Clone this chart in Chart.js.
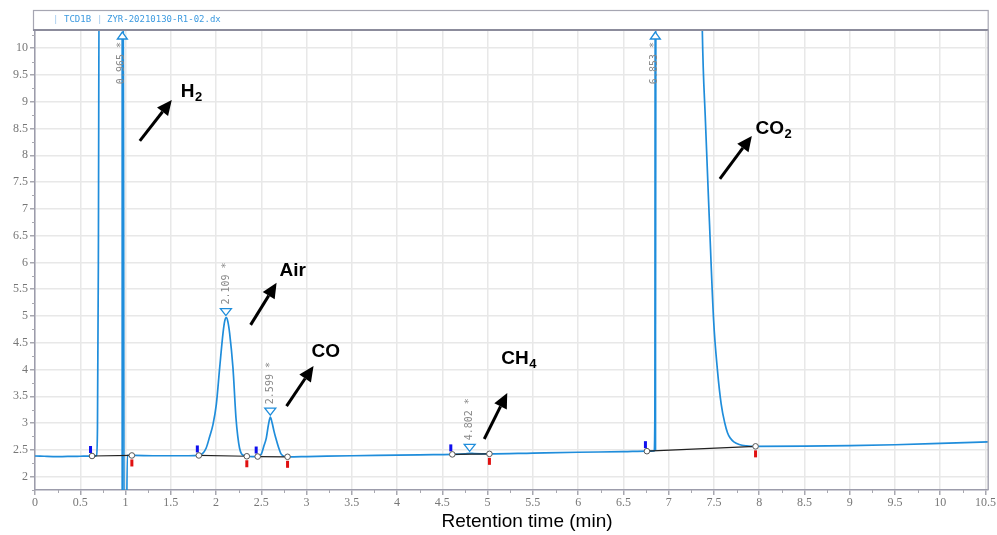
<!DOCTYPE html>
<html><head><meta charset="utf-8">
<script src="https://cdn.jsdelivr.net/npm/chart.js@4/dist/chart.umd.min.js"></script>
<style>html,body{margin:0;padding:0;background:#fff}#wrap{width:997px;height:535px;position:relative}</style>
</head><body><div id="wrap"><canvas id="c"></canvas></div>
<script>
// ---- data ----
const retentionTime = [0.00,0.10,0.20,0.30,0.40,0.50,0.60,0.66,0.68,0.69,0.70,0.71,0.975,0.985,1.005,1.02,1.10,1.30,1.50,1.70,1.80,1.85,1.89,1.93,1.966,2.003,2.04,2.077,2.095,2.113,2.13,2.15,2.187,2.22,2.24,2.26,2.28,2.30,2.34,2.40,2.46,2.50,2.53,2.555,2.58,2.60,2.62,2.64,2.66,2.69,2.72,2.76,2.80,3.00,3.50,4.00,4.40,4.61,4.75,4.80,4.85,5.02,5.50,6.00,6.50,6.76,6.84,6.85,6.86,7.36,7.37,7.406,7.45,7.497,7.54,7.58,7.62,7.65,7.68,7.72,7.78,7.86,7.96,8.50,9.00,9.50,10.00,10.53];
const signal =        [2.385,2.38,2.375,2.375,2.378,2.38,2.382,2.383,2.40,2.9,6.0,12,12,0,0,2.395,2.395,2.39,2.39,2.39,2.395,2.43,2.53,2.75,2.97,3.35,4.03,4.68,4.9,4.97,4.9,4.68,4.03,3.1,2.75,2.53,2.43,2.40,2.38,2.375,2.375,2.42,2.58,2.72,2.98,3.11,3.0,2.85,2.72,2.55,2.42,2.375,2.37,2.375,2.39,2.40,2.41,2.415,2.425,2.435,2.43,2.425,2.44,2.455,2.465,2.475,2.48,4.0,12,12,10.5,8.65,6.78,4.91,3.97,3.36,3.0,2.82,2.72,2.65,2.60,2.575,2.565,2.57,2.58,2.595,2.62,2.65];
const xTicks = [0,0.5,1,1.5,2,2.5,3,3.5,4,4.5,5,5.5,6,6.5,7,7.5,8,8.5,9,9.5,10,10.5];
const yTicks = [2,2.5,3,3.5,4,4.5,5,5.5,6,6.5,7,7.5,8,8.5,9,9.5,10];
// peak markers (null height = off scale)
const peakTimes   = [0.965,2.109,2.599,4.802,6.853];
const peakHeights = [null,4.97,3.11,2.435,null];
const peakBaseY   = [2.39,null,null,null,2.48];
const peakLabels  = ["0.965 *","2.109 *","2.599 *","4.802 *","6.853 *"];
// integration events
const intStartX = [0.63,1.81,2.46,4.61,6.76];
const intStartY = [2.385,2.395,2.375,2.415,2.475];
const intEndX   = [1.07,2.34,2.79,5.02,7.96];
const intEndY   = [2.395,2.38,2.37,2.425,2.565];
// compound annotations
const compoundMain = ["H","Air","CO","CH","CO"];
const compoundSub  = ["2","","","4","2"];
const labelX = [1.61,2.70,3.055,5.15,7.96];
const labelY = [9.09,5.75,4.235,4.105,8.40];
const arrowFromX = [1.158,2.382,2.779,4.963,7.566];
const arrowFromY = [8.27,4.834,3.317,2.703,7.559];
const arrowToX   = [1.511,2.669,3.077,5.217,7.919];
const arrowToY   = [9.035,5.618,4.064,3.562,8.362];
const headerDetector = "TCD1B";
const headerFile = "ZYR-20210130-R1-02.dx";
const xTitle = "Retention time (min)";

const BLUE = '#1f8ddb';

const overlay = {
  id:'overlay',
  afterDraw(chart){
    const ctx = chart.ctx, xs = chart.scales.x, ys = chart.scales.y, a = chart.chartArea;
    ctx.save();
    // header box
    ctx.strokeStyle = '#a6a6b2'; ctx.lineWidth = 1.2;
    ctx.strokeRect(33.5, 10.5, a.right - 33.5, 19.5);
    ctx.strokeStyle = '#8c8c9c'; ctx.lineWidth = 2;
    ctx.beginPath(); ctx.moveTo(33, a.top); ctx.lineTo(a.right, a.top); ctx.stroke();
    // right border
    ctx.strokeStyle = '#a6a6b2'; ctx.lineWidth = 1.5;
    ctx.beginPath(); ctx.moveTo(a.right, a.top); ctx.lineTo(a.right, a.bottom); ctx.stroke();
    ctx.font = '9px "DejaVu Sans Mono"'; ctx.textBaseline = 'middle'; ctx.textAlign = 'left';
    ctx.fillStyle = '#9cc8ee'; ctx.fillText('|', 53, 19.5); ctx.fillText('|', 97, 19.5);
    ctx.fillStyle = '#3d9ae0'; ctx.fillText(headerDetector, 64, 19.5); ctx.fillText(headerFile, 107, 19.5);
    // minor ticks
    ctx.strokeStyle = '#a8a8b0'; ctx.lineWidth = 1;
    for (let i = 0; i < xTicks.length; i++) {
      const v = xTicks[i] + 0.25; if (v > xs.max) break;
      const px = Math.round(xs.getPixelForValue(v)) + 0.5;
      ctx.beginPath(); ctx.moveTo(px, a.bottom); ctx.lineTo(px, a.bottom + 3); ctx.stroke();
    }
    for (let i = -1; i < yTicks.length; i++) {
      const v = (i < 0 ? yTicks[0] - 0.5 : yTicks[i]) + 0.25; if (v > ys.max || v < ys.min) continue;
      const py = Math.round(ys.getPixelForValue(v)) + 0.5;
      ctx.beginPath(); ctx.moveTo(a.left - 3, py); ctx.lineTo(a.left, py); ctx.stroke();
    }
    // clip to plot for markers
    ctx.save();
    ctx.beginPath(); ctx.rect(a.left, a.top, a.right - a.left, a.bottom - a.top); ctx.clip();
    // peak markers
    ctx.strokeStyle = BLUE; ctx.lineWidth = 1.3; ctx.fillStyle = '#fff';
    for (let i = 0; i < peakTimes.length; i++) {
      const px = xs.getPixelForValue(peakTimes[i]);
      if (peakHeights[i] === null) {
        const by = ys.getPixelForValue(peakBaseY[i]);
        ctx.lineWidth = 2;
        ctx.beginPath(); ctx.moveTo(px, a.top + 3); ctx.lineTo(px, i === 0 ? a.bottom : by); ctx.stroke();
        ctx.lineWidth = 1.3;
        ctx.beginPath(); ctx.moveTo(px, a.top + 2); ctx.lineTo(px - 5, a.top + 9); ctx.lineTo(px + 5, a.top + 9); ctx.closePath();
        ctx.fill(); ctx.stroke();
        ctx.save(); ctx.translate(px - 1, a.top + 12); ctx.rotate(-Math.PI / 2);
        ctx.font = '10px "DejaVu Sans Mono"'; ctx.fillStyle = '#888'; ctx.textAlign = 'right'; ctx.textBaseline = 'middle';
        ctx.fillText(peakLabels[i], 0, 0); ctx.restore(); ctx.fillStyle = '#fff';
      } else {
        const py = ys.getPixelForValue(peakHeights[i]) - 2;
        ctx.beginPath(); ctx.moveTo(px, py); ctx.lineTo(px - 5.5, py - 7); ctx.lineTo(px + 5.5, py - 7); ctx.closePath();
        ctx.fill(); ctx.stroke();
        ctx.save(); ctx.translate(px, py - 11); ctx.rotate(-Math.PI / 2);
        ctx.font = '10px "DejaVu Sans Mono"'; ctx.fillStyle = '#888'; ctx.textAlign = 'left'; ctx.textBaseline = 'middle';
        ctx.fillText(peakLabels[i], 0, 0); ctx.restore(); ctx.fillStyle = '#fff';
      }
    }
    // integration baselines
    for (let i = 0; i < intStartX.length; i++) {
      const x1 = xs.getPixelForValue(intStartX[i]), y1 = ys.getPixelForValue(intStartY[i]);
      const x2 = xs.getPixelForValue(intEndX[i]), y2 = ys.getPixelForValue(intEndY[i]);
      ctx.strokeStyle = '#222'; ctx.lineWidth = 1.2;
      ctx.beginPath(); ctx.moveTo(x1, y1); ctx.lineTo(x2, y2); ctx.stroke();
      ctx.fillStyle = '#1010ee'; ctx.fillRect(x1 - 3, y1 - 10, 3, 7);
      ctx.fillStyle = '#e01010'; ctx.fillRect(x2 - 1.5, y2 + 4, 3, 7);
      ctx.strokeStyle = '#555'; ctx.lineWidth = 1; ctx.fillStyle = '#fff';
      for (const [cx, cy] of [[x1, y1], [x2, y2]]) {
        ctx.beginPath(); ctx.arc(cx, cy, 2.8, 0, Math.PI * 2); ctx.fill(); ctx.stroke();
      }
    }
    ctx.restore();
    // annotations: arrows
    ctx.strokeStyle = '#000'; ctx.fillStyle = '#000'; ctx.lineWidth = 3;
    for (let i = 0; i < arrowFromX.length; i++) {
      const x1 = xs.getPixelForValue(arrowFromX[i]), y1 = ys.getPixelForValue(arrowFromY[i]);
      const x2 = xs.getPixelForValue(arrowToX[i]), y2 = ys.getPixelForValue(arrowToY[i]);
      const ang = Math.atan2(y2 - y1, x2 - x1), hl = 15, hw = 7;
      const bx = x2 - hl * Math.cos(ang), by = y2 - hl * Math.sin(ang);
      ctx.beginPath(); ctx.moveTo(x1, y1); ctx.lineTo(bx, by); ctx.stroke();
      ctx.beginPath(); ctx.moveTo(x2, y2);
      ctx.lineTo(bx + hw * Math.sin(ang), by - hw * Math.cos(ang));
      ctx.lineTo(bx - hw * Math.sin(ang), by + hw * Math.cos(ang));
      ctx.closePath(); ctx.fill();
    }
    // annotations: names
    ctx.textAlign = 'left'; ctx.textBaseline = 'alphabetic';
    for (let i = 0; i < compoundMain.length; i++) {
      const tx = xs.getPixelForValue(labelX[i]), ty = ys.getPixelForValue(labelY[i]);
      ctx.font = 'bold 19px "Liberation Sans"';
      ctx.fillText(compoundMain[i], tx, ty);
      if (compoundSub[i]) {
        const w = ctx.measureText(compoundMain[i]).width;
        ctx.font = 'bold 13px "Liberation Sans"';
        ctx.fillText(compoundSub[i], tx + w + 0.5, ty + 4);
      }
    }
    // x title
    ctx.font = '19px "Liberation Sans"'; ctx.textAlign = 'center'; ctx.textBaseline = 'middle';
    ctx.fillText(xTitle, 527, 522);
    ctx.restore();
  }
};

new Chart(document.getElementById('c'), {
  type: 'scatter',
  data: { datasets: [{
    data: retentionTime.map((t, i) => ({ x: t, y: signal[i] })),
    showLine: true, borderColor: BLUE, borderWidth: 1.7, pointRadius: 0,
    cubicInterpolationMode: 'monotone', fill: false
  }]},
  options: {
    responsive: true, maintainAspectRatio: false, animation: false,
    layout: { padding: { top: 30, right: 7, left: 0, bottom: 0 } },
    plugins: { legend: { display: false }, tooltip: { enabled: false } },
    scales: {
      x: {
        type: 'linear', min: 0, max: 10.53,
        afterBuildTicks: s => { s.ticks = xTicks.map(v => ({ value: v })); },
        afterFit: s => { s.height = 45; },
        grid: { color: '#e8e8e8', lineWidth: 1.5, tickLength: 5, tickColor: '#a8a8b0' },
        border: { color: '#9c9cab', width: 1.5 },
        ticks: { font: { family: 'Liberation Serif', size: 12 }, color: '#777', padding: 1, maxRotation: 0, autoSkip: false, callback: v => String(v) }
      },
      y: {
        min: 1.75, max: 10.34,
        afterBuildTicks: s => { s.ticks = yTicks.map(v => ({ value: v })); },
        afterFit: s => { s.width = 35; },
        grid: { color: '#e8e8e8', lineWidth: 1.5, tickLength: 5, tickColor: '#a8a8b0' },
        border: { color: '#9c9cab', width: 1.5 },
        ticks: { font: { family: 'Liberation Serif', size: 12 }, color: '#777', padding: 2, autoSkip: false, callback: v => String(v) }
      }
    }
  },
  plugins: [overlay]
});
</script></body></html>
